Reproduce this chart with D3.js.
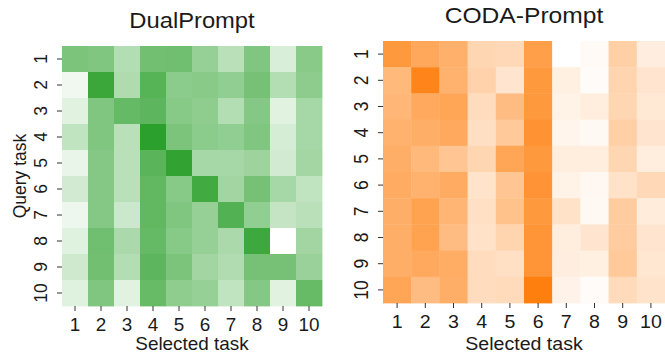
<!DOCTYPE html>
<html>
<head>
<meta charset="utf-8">
<script src="https://cdn.jsdelivr.net/npm/d3@7"></script>
<style>
  body { margin: 0; background: #fff; }
  svg { display: block; }
  text { font-family: "Liberation Sans", Arial, Helvetica, sans-serif; fill: #1a1a1a; }
</style>
</head>
<body>
<svg id="chart" width="665" height="358"></svg>
<script>
// Task ids used for both axes
const tasks = ["1", "2", "3", "4", "5", "6", "7", "8", "9", "10"];

// Prompt-selection frequency, rows = query task, columns = selected task
const dualPromptValues = [
  [0.62, 0.60, 0.36, 0.67, 0.68, 0.50, 0.33, 0.60, 0.18, 0.56],
  [0.07, 0.93, 0.38, 0.80, 0.55, 0.56, 0.52, 0.65, 0.36, 0.54],
  [0.14, 0.60, 0.73, 0.77, 0.57, 0.53, 0.36, 0.58, 0.14, 0.42],
  [0.30, 0.60, 0.33, 1.00, 0.62, 0.55, 0.52, 0.60, 0.20, 0.42],
  [0.11, 0.58, 0.33, 0.78, 0.97, 0.42, 0.42, 0.46, 0.22, 0.43],
  [0.22, 0.58, 0.33, 0.75, 0.57, 0.90, 0.44, 0.65, 0.42, 0.30],
  [0.08, 0.58, 0.24, 0.75, 0.60, 0.50, 0.82, 0.52, 0.28, 0.33],
  [0.15, 0.68, 0.40, 0.73, 0.57, 0.50, 0.40, 0.92, 0.00, 0.44],
  [0.23, 0.67, 0.36, 0.77, 0.62, 0.44, 0.37, 0.65, 0.65, 0.48],
  [0.15, 0.60, 0.14, 0.72, 0.53, 0.50, 0.30, 0.58, 0.14, 0.72]
];

const codaPromptValues = [
  [0.80, 0.68, 0.62, 0.32, 0.30, 0.75, 0.00, 0.04, 0.37, 0.13],
  [0.55, 0.95, 0.60, 0.35, 0.20, 0.80, 0.12, 0.03, 0.33, 0.20],
  [0.57, 0.67, 0.70, 0.27, 0.52, 0.80, 0.10, 0.14, 0.32, 0.18],
  [0.60, 0.63, 0.67, 0.25, 0.42, 0.85, 0.08, 0.05, 0.37, 0.20],
  [0.63, 0.55, 0.45, 0.32, 0.70, 0.80, 0.14, 0.14, 0.32, 0.14],
  [0.65, 0.60, 0.65, 0.22, 0.45, 0.84, 0.10, 0.06, 0.23, 0.30],
  [0.63, 0.72, 0.58, 0.24, 0.48, 0.80, 0.23, 0.05, 0.40, 0.15],
  [0.63, 0.72, 0.52, 0.23, 0.33, 0.83, 0.14, 0.20, 0.40, 0.20],
  [0.63, 0.67, 0.64, 0.27, 0.24, 0.83, 0.13, 0.12, 0.42, 0.19],
  [0.70, 0.52, 0.63, 0.27, 0.28, 1.00, 0.09, 0.03, 0.28, 0.22]
];

const titles = ["DualPrompt", "CODA-Prompt"];
const xLabel = "Selected task";
const yLabel = "Query task";

// Layout of the two heatmap panels
const panels = [
  { title: titles[0], values: dualPromptValues, color: "#2ca02c",
    x0: 62, x1: 322, y0: 46, y1: 306, titleY: 28, sx: 1.08, yLabel: true },
  { title: titles[1], values: codaPromptValues, color: "#ff7f0e",
    x0: 383, x1: 665, y0: 41, y1: 303, titleY: 23, sx: 1.12, yLabel: false }
];

const svg = d3.select("#chart");

panels.forEach(p => {
  const g = svg.append("g");
  const x = d3.scaleBand().domain(tasks).range([p.x0, p.x1]);
  const y = d3.scaleBand().domain(tasks).range([p.y0, p.y1]);
  const flat = p.values.flat();
  const color = d3.scaleLinear()
    .domain([d3.min(flat), d3.max(flat)])
    .range(["#ffffff", p.color])
    .interpolate(d3.interpolateRgb);

  const cells = [];
  p.values.forEach((row, i) => row.forEach((v, j) => {
    cells.push({ row: tasks[i], col: tasks[j], v });
  }));

  g.append("g").selectAll("rect").data(cells).join("rect")
    .attr("x", d => x(d.col))
    .attr("y", d => y(d.row))
    .attr("width", x.bandwidth() + 0.4)
    .attr("height", y.bandwidth() + 0.4)
    .attr("fill", d => color(d.v));

  // x axis
  const gx = g.append("g")
    .attr("transform", `translate(0,${p.y1})`)
    .call(d3.axisBottom(x).tickSize(5).tickPadding(8));
  gx.select(".domain").remove();
  gx.selectAll(".tick line").attr("stroke", "#333");
  gx.selectAll(".tick text")
    .attr("font-size", 17.5)
    .attr("font-family", null)
    .attr("fill", "#1a1a1a")
    .each(function () {
      const t = d3.select(this);
      const yy = +t.attr("y");
      t.attr("y", null).attr("transform", `translate(0,${yy}) scale(${p.sx},1)`);
    });

  // y axis, labels turned to read upward
  const gy = g.append("g")
    .attr("transform", `translate(${p.x0},0)`)
    .call(d3.axisLeft(y).tickSize(5));
  gy.select(".domain").remove();
  gy.selectAll(".tick line").attr("stroke", "#333");
  gy.selectAll(".tick text")
    .attr("font-size", 17.5)
    .attr("font-family", null)
    .attr("fill", "#1a1a1a")
    .attr("x", null).attr("dy", null)
    .attr("text-anchor", "middle")
    .attr("transform", `translate(-15,0) scale(${p.sx},1) rotate(-90)`);

  // title
  g.append("text")
    .attr("text-anchor", "middle")
    .attr("font-size", 22)
    .attr("transform", `translate(${(p.x0 + p.x1) / 2},${p.titleY}) scale(${p.sx},1)`)
    .text(p.title);

  // x axis label
  g.append("text")
    .attr("text-anchor", "middle")
    .attr("font-size", 17.5)
    .attr("transform", `translate(${(p.x0 + p.x1) / 2},350) scale(${p.sx},1)`)
    .text(xLabel);

  if (p.yLabel) {
    g.append("text")
      .attr("text-anchor", "middle")
      .attr("font-size", 17.5)
      .attr("transform", `translate(26,${(p.y0 + p.y1) / 2}) scale(${p.sx},1) rotate(-90)`)
      .text(yLabel);
  }
});
</script>
</body>
</html>
